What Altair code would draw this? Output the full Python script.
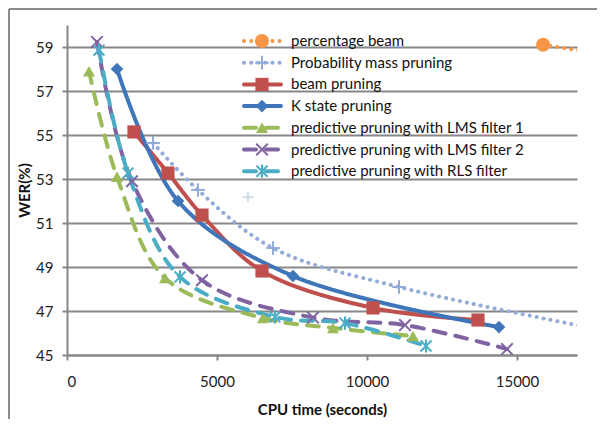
import altair as alt
import pandas as pd

# ---- data ----
series_names = [
    "percentage beam",
    "Probability mass pruning",
    "beam pruning",
    "K state pruning",
    "predictive pruning with LMS filter 1",
    "predictive pruning with LMS filter 2",
    "predictive pruning with RLS filter",
]
colors = ["#F79646", "#93ABD9", "#C0504D", "#3F76BA", "#9BBB59", "#8064A2", "#4BACC6"]

pct_x = [15870, 21000]
pct_y = [59.1, 58.0]
pm_x = [2867, 4367, 6867, 11067, 19500]
pm_y = [54.64, 52.5, 49.86, 48.09, 45.7]
beam_x = [2233, 3367, 4500, 6500, 10200, 13700]
beam_y = [55.14, 53.27, 51.36, 48.82, 47.14, 46.59]
k_x = [1667, 3700, 7533, 14400]
k_y = [58.0, 52.0, 48.59, 46.27]
lms1_x = [733, 1667, 3267, 6533, 8867, 11533]
lms1_y = [57.9, 53.1, 48.5, 46.68, 46.23, 45.86]
lms2_x = [1000, 2167, 4500, 8200, 11267, 14667]
lms2_y = [59.23, 52.9, 48.4, 46.7, 46.36, 45.27]
rls_x = [1067, 2033, 3767, 6933, 9267, 11967]
rls_y = [58.86, 53.27, 48.55, 46.73, 46.45, 45.41]
stray_x = [6033]
stray_y = [52.18]

x_ticks = [0, 5000, 10000, 15000]
y_ticks = [45, 47, 49, 51, 53, 55, 57, 59]

all_xy = [(pct_x, pct_y), (pm_x, pm_y), (beam_x, beam_y), (k_x, k_y),
          (lms1_x, lms1_y), (lms2_x, lms2_y), (rls_x, rls_y)]
rows = []
for name, (xs, ys) in zip(series_names, all_xy):
    for i, (xv, yv) in enumerate(zip(xs, ys)):
        rows.append({"series": name, "cpu": xv, "wer": yv, "i": i})
df = pd.DataFrame(rows)
stray_df = pd.DataFrame({"cpu": stray_x, "wer": stray_y})
legend_df = pd.DataFrame({"series": series_names, "idx": list(range(len(series_names)))})

dash_range = [[0.1, 7], [0.1, 7], [1, 0], [1, 0], [12, 10], [12, 10], [12, 10]]
width_range = [4, 4, 5, 5, 4.5, 4.5, 4.5]
shape_range = [
    "circle",
    "M-1,0L1,0M0,-1L0,1",
    "square",
    "diamond",
    "triangle-up",
    "M-1,-1L1,1M1,-1L-1,1",
    "M-1,-1L1,1M1,-1L-1,1M0,-1.2L0,1.2",
]
size_range = [200, 120, 200, 160, 140, 140, 150]

color_sc = alt.Scale(domain=series_names, range=colors)
dash_sc = alt.Scale(domain=series_names, range=dash_range)
width_sc = alt.Scale(domain=series_names, range=width_range)
shape_sc = alt.Scale(domain=series_names, range=shape_range)
size_sc = alt.Scale(domain=series_names, range=size_range)

filled_set = [series_names[0], series_names[2], series_names[3], series_names[4]]
stroke_set = [series_names[1], series_names[5], series_names[6]]

X = alt.X("cpu:Q", scale=alt.Scale(domain=[0, 17000], nice=False),
          axis=alt.Axis(values=x_ticks, grid=False, title="CPU time (seconds)",
                        format="d", labelPadding=14, titlePadding=13))
Y = alt.Y("wer:Q", scale=alt.Scale(domain=[45, 60], nice=False, zero=False),
          axis=alt.Axis(values=y_ticks, grid=True, title="WER(%)",
                        labelPadding=9, titlePadding=3))

base = alt.Chart(df)

lines = base.mark_line(clip=True, strokeCap="round", interpolate="catmull-rom").encode(
    x=X, y=Y,
    color=alt.Color("series:N", scale=color_sc, legend=None),
    strokeDash=alt.StrokeDash("series:N", scale=dash_sc, legend=None),
    strokeWidth=alt.StrokeWidth("series:N", scale=width_sc, legend=None),
    detail="series:N",
    order="i:Q",
)

pts_filled = base.transform_filter(
    alt.FieldOneOfPredicate(field="series", oneOf=filled_set)
).mark_point(filled=True, opacity=1, clip=True).encode(
    x="cpu:Q", y="wer:Q",
    color=alt.Color("series:N", scale=color_sc, legend=None),
    shape=alt.Shape("series:N", scale=shape_sc, legend=None),
    size=alt.Size("series:N", scale=size_sc, legend=None),
)

pts_stroke = base.transform_filter(
    alt.FieldOneOfPredicate(field="series", oneOf=stroke_set)
).mark_point(filled=False, opacity=1, strokeWidth=2, clip=True).encode(
    x="cpu:Q", y="wer:Q",
    color=alt.Color("series:N", scale=color_sc, legend=None),
    shape=alt.Shape("series:N", scale=shape_sc, legend=None),
    size=alt.Size("series:N", scale=size_sc, legend=None),
)

stray = alt.Chart(stray_df).mark_point(
    filled=False, shape="M-1,0L1,0M0,-1L0,1", size=110, strokeWidth=1.2,
    color="#B9C8E6", opacity=1
).encode(x="cpu:Q", y="wer:Q")

# ---- legend (inside the plot, top right) ----
leg = alt.Chart(legend_df).transform_calculate(ly="16 + datum.idx * 21.7")
leg_rule = leg.mark_rule(strokeCap="round").encode(
    x=alt.value(177), x2=alt.value(214),
    y=alt.Y("ly:Q", scale=None),
    color=alt.Color("series:N", scale=color_sc, legend=None),
    strokeDash=alt.StrokeDash("series:N", scale=dash_sc, legend=None),
    strokeWidth=alt.StrokeWidth("series:N", scale=width_sc, legend=None),
)
leg_pf = leg.transform_filter(
    alt.FieldOneOfPredicate(field="series", oneOf=filled_set)
).mark_point(filled=True, opacity=1).encode(
    x=alt.value(195), y=alt.Y("ly:Q", scale=None),
    color=alt.Color("series:N", scale=color_sc, legend=None),
    shape=alt.Shape("series:N", scale=shape_sc, legend=None),
    size=alt.Size("series:N", scale=size_sc, legend=None),
)
leg_ps = leg.transform_filter(
    alt.FieldOneOfPredicate(field="series", oneOf=stroke_set)
).mark_point(filled=False, opacity=1, strokeWidth=2).encode(
    x=alt.value(195), y=alt.Y("ly:Q", scale=None),
    color=alt.Color("series:N", scale=color_sc, legend=None),
    shape=alt.Shape("series:N", scale=shape_sc, legend=None),
    size=alt.Size("series:N", scale=size_sc, legend=None),
)
leg_text = leg.mark_text(align="left", baseline="middle", font="Lato",
                         fontSize=15, color="#111").encode(
    x=alt.value(224), y=alt.Y("ly:Q", scale=None), text="series:N",
)

frame = alt.Data(values=[{}])
border_left = alt.Chart(frame).mark_rule(color="#8a8a8a", strokeWidth=2).encode(
    x=alt.value(-58), y=alt.value(-16), y2=alt.value(420))
border_top = alt.Chart(frame).mark_rule(color="#8a8a8a", strokeWidth=2).encode(
    x=alt.value(-58), x2=alt.value(600), y=alt.value(-16))

chart = alt.layer(
    border_left, border_top, lines, stray, pts_filled, pts_stroke,
    leg_rule, leg_pf, leg_ps, leg_text,
).resolve_scale(
    color="shared", shape="shared", size="shared", strokeDash="shared"
).properties(
    width=510, height=330,
    autosize=alt.AutoSizeParams(type="none"),
    padding={"left": 59, "top": 17, "right": 20, "bottom": 64},
).configure_view(stroke=None).configure_axis(
    domainColor="#878787", domainWidth=2, tickColor="#878787", tickWidth=2,
    tickSize=5, gridColor="#878787", gridWidth=2,
    labelFont="Lato", labelFontSize=15, labelColor="#222",
    titleFont="Lato", titleFontSize=15, titleFontWeight="bold", titleColor="#111",
)

chart.save("out.html", embed_options={"renderer": "svg", "actions": False})
